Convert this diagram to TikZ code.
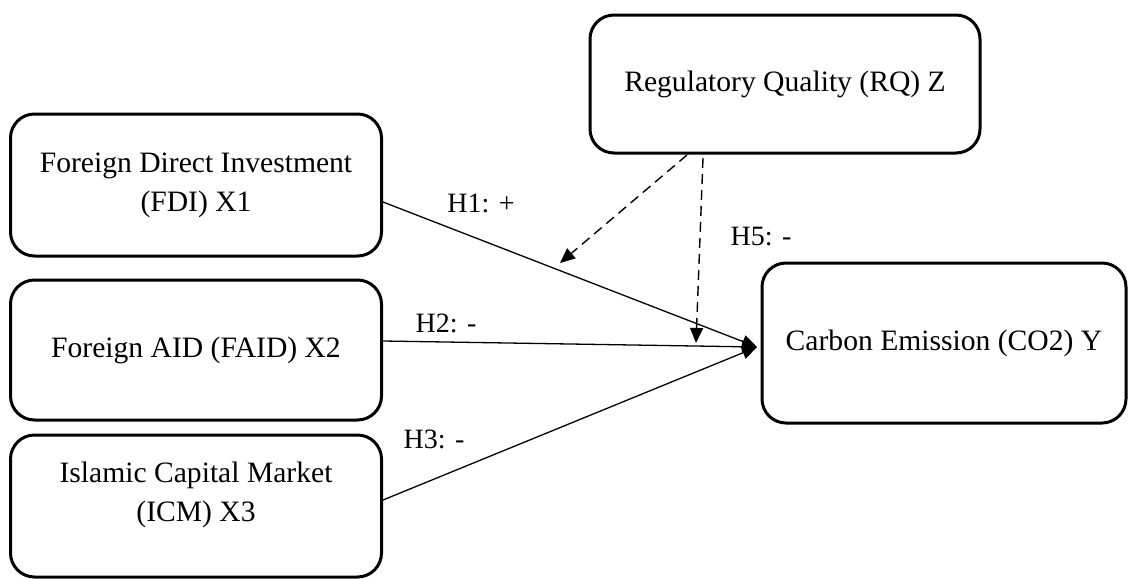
\documentclass[tikz,border=0pt]{standalone}
\usepackage{fontspec}
\setmainfont{Liberation Serif}
\usetikzlibrary{arrows.meta}
\begin{document}
\begin{tikzpicture}[x=0.5pt,y=-0.5pt,
  varbox/.style={draw, line width=1.5pt, rounded corners=12pt, align=center,
    font=\fontsize{14.8}{19.5}\selectfont, inner sep=0pt},
  path/.style={line width=0.65pt, -{Triangle[length=7.5pt,width=6.5pt]}},
  modpath/.style={path, line width=0.7pt, dash pattern=on 5pt off 3pt},
  hlabel/.style={font=\fontsize{14}{16}\selectfont, inner sep=0pt}]
\useasboundingbox (0,0) rectangle (1129,578);
\node[varbox, minimum width=185.5pt, minimum height=71pt] (FDI) at (196,185)
  {Foreign Direct Investment\\(FDI) X1};
\node[varbox, minimum width=185.5pt, minimum height=70pt] (FAID) at (196,350)
  {Foreign AID (FAID) X2};
\node[varbox, minimum width=185.5pt, minimum height=71pt, text depth=14pt] (ICM) at (196,506)
  {Islamic Capital Market\\(ICM) X3};
\node[varbox, minimum width=195pt, minimum height=69pt] (RQ) at (785,84)
  {Regulatory Quality (RQ) Z};
\node[varbox, minimum width=182pt, minimum height=80pt] (CO2) at (944,343)
  {Carbon Emission (CO2) Y};
\coordinate (tip) at (757,347);
\coordinate (m1s) at (687,155);
\coordinate (m1e) at (560,263);
\coordinate (m2s) at (703,158);
\coordinate (m2e) at (696,343);
\draw[path] (FDI.east |- 0,202) -- (tip);
\draw[path] (FAID.east |- 0,341) -- (tip);
\draw[path] (ICM.east |- 0,500) -- (tip);
\draw[modpath] (m1s) -- (m1e);
\draw[modpath] (m2s) -- (m2e);
\node[hlabel] (h1) at (481,203) {H1: +};
\node[hlabel] (h2) at (446,323) {H2: -};
\node[hlabel] (h3) at (434,439) {H3: -};
\node[hlabel] (h5) at (761,237) {H5: -};
\end{tikzpicture}
\end{document}
